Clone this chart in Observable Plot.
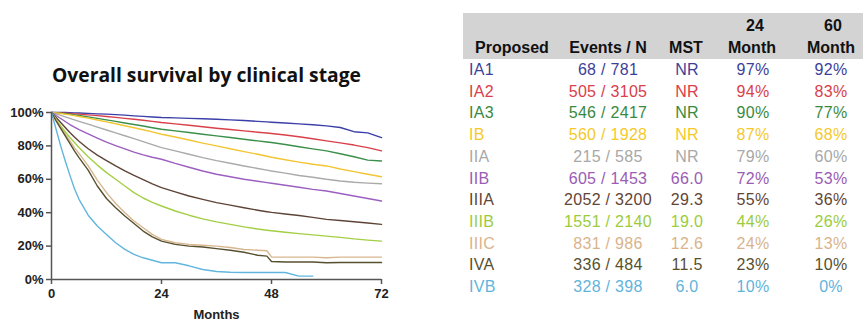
<!DOCTYPE html>
<html>
<head>
<meta charset="utf-8">
<script src="https://cdn.jsdelivr.net/npm/d3@7"></script>
<script src="https://cdn.jsdelivr.net/npm/@observablehq/plot@0.6"></script>
<style>
  html, body { margin: 0; padding: 0; background: #fff; }
  #page { position: relative; width: 863px; height: 326px; overflow: hidden; background: #fff;
          font-family: "Liberation Sans", Arial, sans-serif; }
  #title { position: absolute; left: 50px; top: 62px; width: 313px; text-align: center;
           font-family: "Open Sans", sans-serif; font-weight: 700; font-size: 19.3px; line-height: 26px; color: #111; white-space: nowrap; }
  #chart { position: absolute; left: 0; top: 95px; }
  #head { position: absolute; left: 463px; top: 13px; width: 400px; height: 46px; background: #d3d3d3; }
  .h { position: absolute; font-weight: bold; font-size: 16px; color: #111; line-height: 18px; white-space: nowrap; transform: translate(-50%, -50%); }
  .c { position: absolute; font-size: 16px; letter-spacing: 0.3px; line-height: 18px; white-space: nowrap; transform: translate(-50%, -50%); }
  .l { position: absolute; font-size: 16px; letter-spacing: 0.3px; line-height: 18px; white-space: nowrap; transform: translate(0, -50%); }
</style>
</head>
<body>
<div id="page">
  <div id="title">Overall survival by clinical stage</div>
  <div id="chart"></div>
  <div id="head"></div>
</div>
<script>
// Follow-up grid (months) shared by all curves
const months = [0, 1, 2, 3, 4, 5, 6, 8, 10, 12, 14, 16, 18, 20, 22, 24, 27, 30, 33, 36, 39, 42, 45, 47, 48, 51, 54, 57, 60, 63, 66, 69, 72];

// Overall survival (%) per clinical stage at each grid month
const IA1  = [100, 100, 100, 100, 99.9, 99.8, 99.7, 99.5, 99.2, 99, 98.7, 98.4, 98, 97.7, 97.3, 97, 96.8, 96.5, 96.3, 96, 95.6, 95.2, 94.7, 94.4, 94.2, 93.7, 93.2, 92.7, 92, 91, 88.5, 87.8, 85];
const IA2  = [100, 99.9, 99.8, 99.6, 99.4, 99.2, 99, 98.6, 98.1, 97.6, 97.1, 96.5, 96, 95.4, 94.7, 94, 93.2, 92.4, 91.5, 90.6, 89.8, 89, 88.2, 87.7, 87.4, 86.5, 85.5, 84.3, 83, 81.8, 80.5, 79, 77];
const IA3  = [100, 99.8, 99.6, 99.3, 99, 98.6, 98.2, 97.4, 96.5, 95.6, 94.7, 93.7, 92.8, 91.9, 90.9, 90, 89, 88, 87, 86, 85, 84, 83, 82.3, 82, 80.8, 79.5, 78.2, 77, 75.3, 73.5, 71.5, 71];
const IB   = [100, 99.7, 99.4, 99, 98.6, 98.1, 97.6, 96.6, 95.5, 94.4, 93.3, 92.1, 90.9, 89.7, 88.4, 87, 85.3, 83.5, 81.7, 80, 78.3, 76.6, 75, 73.8, 73.2, 71.7, 70.3, 69, 68, 66.2, 64.6, 63, 61.5];
const IIA  = [100, 99.2, 98.3, 97.4, 96.5, 95.6, 94.7, 93, 91.2, 89.5, 87.8, 86.1, 84.4, 82.6, 80.8, 79, 77, 75, 73, 71.2, 69.6, 68, 66.5, 65.5, 65, 63.7, 62.3, 61.2, 60, 59, 58.2, 57.7, 57.3];
const IIB  = [100, 98.2, 96.4, 94.6, 92.8, 91.2, 89.7, 87.2, 84.7, 82.3, 80.2, 78.2, 76.3, 74.6, 73.2, 72, 69.5, 67.2, 65, 63, 61.5, 60, 58.8, 58, 57.6, 56.4, 55.2, 54, 53, 51.5, 50, 48.5, 47];
const IIIA = [100, 97, 94, 91, 88, 85.3, 82.8, 78.3, 74.5, 71.2, 68, 65, 62.3, 59.8, 57.3, 55, 52.5, 50, 48, 46, 44.5, 43, 41.5, 40.6, 40.2, 39.2, 38.3, 37.2, 36, 35.3, 34.6, 33.8, 33];
const IIIB = [100, 96, 92, 88.5, 85, 82, 79, 73.5, 68.5, 64, 60, 56, 52, 48.8, 46.2, 44, 41, 38.5, 36.3, 34.5, 33, 31.5, 30.2, 29.5, 29.2, 28.3, 27.5, 26.7, 26, 25.2, 24.3, 23.6, 23];
const IIIC = [100, 95.5, 91, 87, 83, 79, 75.5, 68, 59.5, 52, 45.5, 40, 35, 31, 27, 24, 22, 21, 20.5, 20, 19.2, 18, 17.5, 17.2, 13.5, 13.4, 13.4, 13.4, 13, 13.4, 13.4, 13.4, 13.4];
const IVA  = [100, 95, 90.5, 86, 81.5, 77, 73, 65.5, 56, 48.5, 43, 38, 33.5, 29, 25.5, 23, 21, 20, 19.5, 18.5, 17.5, 16.3, 14.5, 14, 10.8, 10.5, 10.5, 10.5, 10, 10.2, 10.2, 10.2, 10.2];
const IVB  = [100, 90, 80, 71, 62.5, 54.5, 48, 38.5, 32, 27, 22, 18, 15, 13, 11.5, 10, 10, 8.2, 6, 4.8, 4.3, 4.2, 4.2, 4.2, 4.2, 4.2, 2, 2, null, null, null, null, null];

const stages = ["IA1", "IA2", "IA3", "IB", "IIA", "IIB", "IIIA", "IIIB", "IIIC", "IVA", "IVB"];
const curves = [IA1, IA2, IA3, IB, IIA, IIB, IIIA, IIIB, IIIC, IVA, IVB];
const lineColors = ["#3b3fa8", "#d9404a", "#3a8f4a", "#f2c633", "#aaaaaa", "#9b5fc0", "#5e4437", "#a3cf45", "#d8b68e", "#57502f", "#62b6de"];
const textColors = ["#3d3f9a", "#d9404a", "#3a8a3e", "#f5c92a", "#a8a8a8", "#9a5cb4", "#634536", "#9ccc3c", "#d9b48c", "#57502f", "#5fb4dc"];

// Summary table columns
const events = [68, 505, 546, 560, 215, 605, 2052, 1551, 831, 336, 328];
const totals = [781, 3105, 2417, 1928, 585, 1453, 3200, 2140, 986, 484, 398];
const mst = ["NR", "NR", "NR", "NR", "NR", "66.0", "29.3", "19.0", "12.6", "11.5", "6.0"];
const surv24 = [97, 94, 90, 87, 79, 72, 55, 44, 24, 23, 10];
const surv60 = [92, 83, 77, 68, 60, 53, 36, 26, 13, 10, 0];

const xTicks = [0, 24, 48, 72];
const yTicks = [0, 20, 40, 60, 80, 100];

// Long-format rows for the survival lines
const rows = stages.flatMap((s, i) =>
  months.map((m, j) => ({stage: s, month: m, surv: curves[i][j]})).filter(d => d.surv != null)
);

const chart = Plot.plot({
  width: 400,
  height: 231,
  marginLeft: 51,
  marginRight: 19,
  marginTop: 17,
  marginBottom: 47,
  style: {fontFamily: "'Liberation Sans', Arial, sans-serif", fontSize: "13px", fontWeight: "bold", color: "#222", background: "transparent", overflow: "visible"},
  x: {domain: [0, 72]},
  y: {domain: [0, 100]},
  color: {domain: stages, range: lineColors},
  marks: [
    Plot.line(rows, {x: "month", y: "surv", stroke: "stage", strokeWidth: 1.4}),
    Plot.axisX({ticks: xTicks, tickSize: 5, tickPadding: 4, stroke: "#555", strokeWidth: 1.5, label: "Months", labelAnchor: "center", labelArrow: "none", labelOffset: 39}),
    Plot.axisY({ticks: yTicks, tickFormat: d => d + "%", tickSize: 5, tickPadding: 3, stroke: "#555", strokeWidth: 1.5, label: null}),
    Plot.ruleX([0], {stroke: "#555", strokeWidth: 1.5}),
    Plot.ruleY([0], {stroke: "#555", strokeWidth: 1.5})
  ]
});
document.getElementById("chart").appendChild(chart);

// Summary table
const page = document.getElementById("page");
function put(cls, text, x, y, color) {
  const el = document.createElement("div");
  el.className = cls;
  el.textContent = text;
  el.style.left = x + "px";
  el.style.top = y + "px";
  if (color) el.style.color = color;
  page.appendChild(el);
}
const colX = {events: 608, mst: 687, m24: 753, m60: 831};
put("h", "Proposed", 512, 48);
put("h", "Events / N", 608, 48);
put("h", "MST", 686, 48);
put("h", "24", 755, 26);
put("h", "Month", 752, 48);
put("h", "60", 833, 26);
put("h", "Month", 831, 48);
stages.forEach((s, i) => {
  const y = 70 + 21.7 * i;
  const c = textColors[i];
  put("l", s, 469, y, c);
  put("c", `${events[i]} / ${totals[i]}`, colX.events, y, c);
  put("c", mst[i], colX.mst, y, c);
  put("c", surv24[i] + "%", colX.m24, y, c);
  put("c", surv60[i] + "%", colX.m60, y, c);
});
</script>
</body>
</html>
